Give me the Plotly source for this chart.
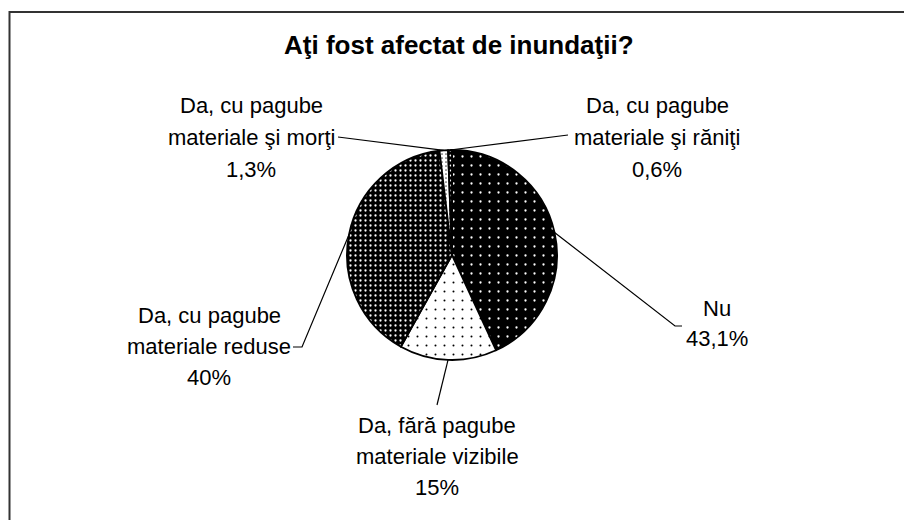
import math
import plotly.graph_objects as go

# ---------------- data ----------------
title_text = "Aţi fost afectat de inundaţii?"
categories = [
    "Nu",
    "Da, fără pagube materiale vizibile",
    "Da, cu pagube materiale reduse",
    "Da, cu pagube materiale şi morţi",
    "Da, cu pagube materiale şi răniţi",
]
label_lines = [
    ["Nu"],
    ["Da, fără pagube", "materiale vizibile"],
    ["Da, cu pagube", "materiale reduse"],
    ["Da, cu pagube", "materiale şi morţi"],
    ["Da, cu pagube", "materiale şi răniţi"],
]
values = [43.1, 15, 40, 1.3, 0.6]

# ---------------- styles / layout ----------------
W, H = 912, 520
OFF = 8  # page body margin offset of the rendered figure
CX, CY, R = 452, 255, 105
FONT = "Liberation Sans, Arial, sans-serif"

pattern_bg = ["#000000", "#ffffff", "#000000", "#ffffff", "#000000"]
pattern_fg = ["#ffffff", "#000000", "#ffffff", "#555555", "#ffffff"]
pattern_size = [9, 9, 5, 4, 5]
pattern_solid = [0.05, 0.04, 0.16, 0.15, 0.15]

# label placement (page pixels): center x, first line y, line step, leader points near label
label_pos = [
    dict(x=717, y=308, step=30, lead=[(682, 326), (675, 326)]),
    dict(x=437, y=425, step=31, lead=[(437, 405)]),
    dict(x=209, y=315, step=31, lead=[(293, 347), (302, 347)]),
    dict(x=251, y=105, step=32, lead=[(338, 137)]),
    dict(x=657, y=105, step=32, lead=[(568, 135)]),
]


def px(x):
    return (x - OFF) / W


def py(y):
    return 1 - (y - OFF) / H


def fmt_pct(v):
    return f"{v:g}".replace(".", ",") + "%"


fig = go.Figure(
    go.Pie(
        labels=categories,
        values=values,
        sort=False,
        direction="clockwise",
        rotation=0,
        textinfo="none",
        hoverinfo="none",
        showlegend=False,
        domain=dict(x=[px(CX - R), px(CX + R)], y=[py(CY + R), py(CY - R)]),
        marker=dict(
            colors=pattern_bg,
            line=dict(color="#000000", width=1.8),
            pattern=dict(
                shape=["."] * len(values),
                bgcolor=pattern_bg,
                fgcolor=pattern_fg,
                size=pattern_size,
                solidity=pattern_solid,
                fillmode="replace",
            ),
        ),
    )
)

annotations = [
    dict(
        text="<b>" + title_text + "</b>",
        x=px(459), y=py(45), xref="paper", yref="paper",
        showarrow=False, xanchor="center", yanchor="middle",
        font=dict(family=FONT, size=26, color="#000000"),
    )
]
shapes = [
    dict(
        type="rect", xref="paper", yref="paper",
        x0=px(9.5), x1=px(930), y0=-0.05, y1=py(12),
        line=dict(color="#333333", width=2), fillcolor="rgba(0,0,0,0)",
        layer="below",
    )
]

total = sum(values)
cum = 0.0
for i, v in enumerate(values):
    mid = 2 * math.pi * (cum + v / 2) / total
    cum += v
    ex = CX + R * math.sin(mid)
    ey = CY - R * math.cos(mid)
    pos = label_pos[i]
    lines = label_lines[i] + [fmt_pct(v)]
    for k, line in enumerate(lines):
        annotations.append(
            dict(
                text=line, x=px(pos["x"]), y=py(pos["y"] + k * pos["step"]),
                xref="paper", yref="paper", showarrow=False,
                xanchor="center", yanchor="middle",
                font=dict(family=FONT, size=22, color="#000000"),
            )
        )
    pts = pos["lead"] + [(ex, ey)]
    path = "M " + " L ".join(f"{px(a)} {py(b)}" for a, b in pts)
    shapes.append(
        dict(type="path", xref="paper", yref="paper", path=path,
             line=dict(color="#000000", width=1.2))
    )

fig.update_layout(
    width=W, height=H,
    margin=dict(l=0, r=0, t=0, b=0),
    paper_bgcolor="#ffffff",
    plot_bgcolor="#ffffff",
    annotations=annotations,
    shapes=shapes,
)

fig.write_html("out.html")
